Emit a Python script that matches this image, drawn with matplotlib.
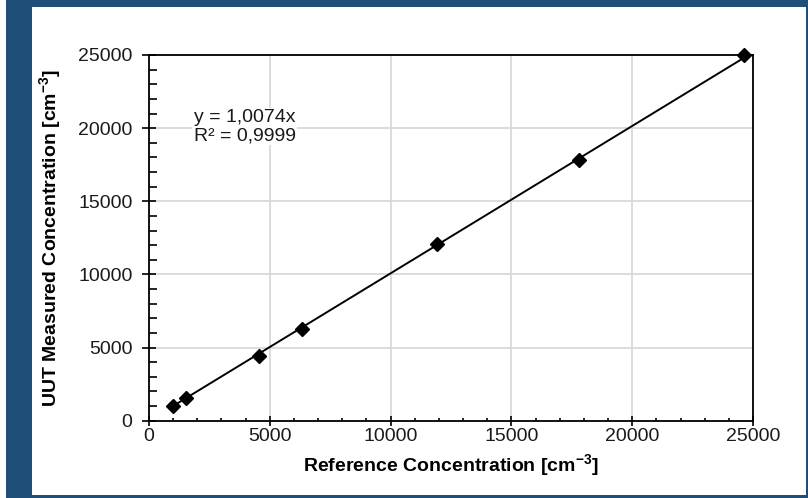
import matplotlib
matplotlib.use("Agg")
import matplotlib.pyplot as plt
from matplotlib.patches import Rectangle
from matplotlib.ticker import MultipleLocator
import numpy as np

plt.rcParams['font.family'] = ['Liberation Sans', 'DejaVu Sans']
plt.rcParams['mathtext.fontset'] = 'custom'
plt.rcParams['mathtext.rm'] = 'Liberation Sans'
plt.rcParams['mathtext.bf'] = 'Liberation Sans:bold'

ref_conc = [1000, 1550, 4560, 6350, 11930, 17810, 24640]
uut_conc = [1010, 1530, 4440, 6250, 12060, 17800, 25000]
slope = 1.0074
r2_text = "0,9999"
x_ticks = [0, 5000, 10000, 15000, 20000, 25000]
y_ticks = [0, 5000, 10000, 15000, 20000, 25000]

fig = plt.figure(figsize=(8.08, 4.98), dpi=100)
fig.patch.set_facecolor('white')
# blue frame and white panel
fig.add_artist(Rectangle((6/808, 0), 802/808, 1, transform=fig.transFigure,
                         facecolor='#1F4E79', edgecolor='none', zorder=0))
fig.add_artist(Rectangle((32/808, 3/498), 774/808, 488/498, transform=fig.transFigure,
                         facecolor='white', edgecolor='none', zorder=0))

ax = fig.add_axes([149/808, 1-420.7/498, 604/808, 365.7/498])
ax.set_facecolor('none')
ax.set_xlim(0, 25000)
ax.set_ylim(0, 25000)
ax.set_xticks(x_ticks)
ax.set_yticks(y_ticks)
ax.xaxis.set_minor_locator(MultipleLocator(1000))
ax.yaxis.set_minor_locator(MultipleLocator(1000))
ax.grid(True, which='major', color='#D9D9D9', linewidth=1.3)
ax.set_axisbelow(True)
for s in ax.spines.values():
    s.set_color('black')
    s.set_linewidth(1.3)

ax.tick_params(axis='x', which='major', direction='inout', length=7.2, width=1.2,
               labelsize=14, pad=2, colors='black', labelcolor='#1a1a1a')
ax.tick_params(axis='x', which='minor', direction='in', length=2.4, width=1.2)
ax.tick_params(axis='y', which='major', direction='inout', length=9.6, width=1.2,
               labelsize=14, pad=7, colors='black', labelcolor='#1a1a1a')
ax.tick_params(axis='y', which='minor', direction='in', length=5.5, width=1.2)

xs = np.array([min(ref_conc), max(ref_conc)])
ax.plot(xs, slope * xs, color='black', linewidth=1.4, zorder=3)
ax.plot(ref_conc, uut_conc, linestyle='none', marker='D', markersize=7.5,
        color='black', zorder=4, clip_on=False)

ax.text(1850, 20100, "y = 1,0074x\nR² = " + r2_text, fontsize=14, color='#1a1a1a',
        va='center', ha='left', linespacing=1.05,
        bbox=dict(facecolor='white', edgecolor='none', pad=1))

ax.set_xlabel(r'Reference Concentration [cm$\mathbf{^{-3}}$]', fontsize=14,
              fontweight='bold', labelpad=5)
ax.set_ylabel(r'UUT Measured Concentration [cm$\mathbf{^{-3}}$]', fontsize=14,
              fontweight='bold')
ax.yaxis.set_label_coords(-0.142, 0.5)

fig.savefig('out.png', dpi=100)
